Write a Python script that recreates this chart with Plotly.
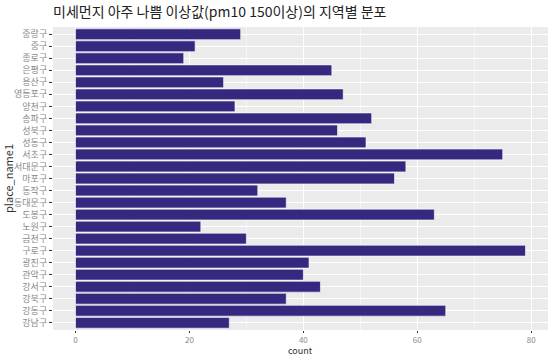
import plotly.graph_objects as go

places = ["강남구", "강동구", "강북구", "강서구", "관악구", "광진구", "구로구", "금천구",
          "노원구", "도봉구", "동대문구", "동작구", "마포구", "서대문구", "서초구", "성동구",
          "성북구", "송파구", "양천구", "영등포구", "용산구", "은평구", "종로구", "중구", "중랑구"]
counts = [27, 65, 37, 43, 40, 41, 79, 30,
          22, 63, 37, 32, 56, 58, 75, 51,
          46, 52, 28, 47, 26, 45, 19, 21, 29]
x_ticks = [0, 20, 40, 60, 80]

font = "Noto Sans CJK KR"
T, B = 27, 29
H = 359

fig = go.Figure(go.Bar(
    x=counts, y=places, orientation="h",
    marker=dict(color="#35297F", line=dict(color="#FFFFFF", width=0.6)),
    width=0.9,
))

fig.update_layout(
    width=553, height=H,
    margin=dict(l=53, r=5, t=T, b=B),
    paper_bgcolor="white", plot_bgcolor="#EBEBEB",
    font=dict(family=font, color="#4D4D4D", size=9),
    title=dict(text="미세먼지 아주 나쁨 이상값(pm10 150이상)의 지역별 분포",
               x=0, xref="paper", xanchor="left", y=0.965, yanchor="middle",
               font=dict(size=14, color="#222222", family=font)),
    showlegend=False,
    bargap=0.1,
    annotations=[dict(text="count", xref="paper", yref="paper", x=0.5,
                      y=-B / (H - T - B), yanchor="bottom", xanchor="center",
                      showarrow=False, font=dict(size=9, color="#333333"))],
)
fig.update_xaxes(
    automargin=False,
    range=[-3.95, 82.95], tickvals=x_ticks, showgrid=True, gridcolor="white", gridwidth=1.1,
    zeroline=False, ticks="outside", ticklen=2, tickcolor="#333333",
    tickfont=dict(size=8, color="#888888"),
    minor=dict(dtick=10, tick0=10, showgrid=True, gridcolor="#F5F5F5", gridwidth=0.6),
)
fig.update_yaxes(
    automargin=False,
    categoryorder="array", categoryarray=places, range=[-0.6, 24.6],
    showgrid=True, gridcolor="white", gridwidth=1.1,
    ticks="outside", ticklen=3, tickcolor="#333333",
    tickfont=dict(size=9, color="#888888"),
    title=dict(text="place_name1", standoff=2, font=dict(size=11, color="#333333")),
)

fig.write_html("out.html")
